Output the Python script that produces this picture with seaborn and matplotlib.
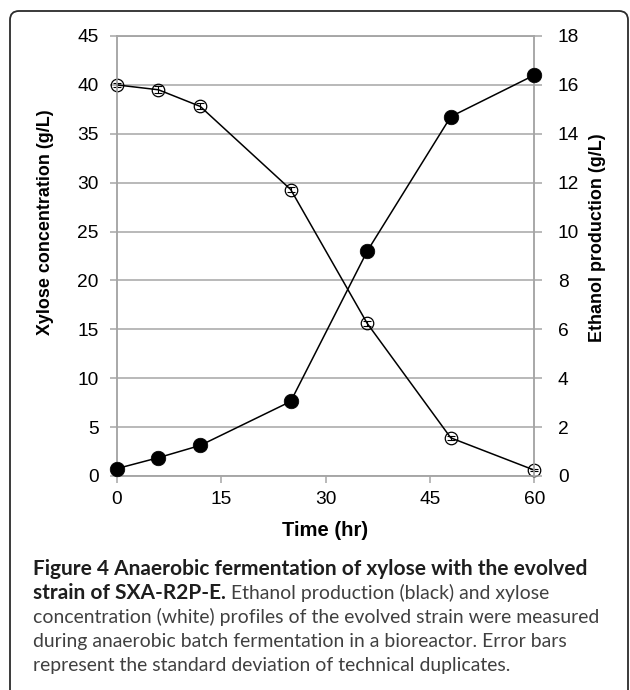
import matplotlib
matplotlib.use('Agg')
import matplotlib.pyplot as plt
import seaborn as sns
import numpy as np
import pandas as pd
from matplotlib.patches import FancyBboxPatch

# ---- data ----
time_hr = [0, 6, 12, 25, 36, 48, 60]
xylose = [40.0, 39.5, 37.8, 29.3, 15.6, 3.9, 0.6]
xylose_err = [0.2, 0.35, 0.3, 0.3, 0.25, 0.2, 0.1]
ethanol = [0.3, 0.75, 1.25, 3.05, 9.2, 14.7, 16.4]
ethanol_err = [0.05, 0.05, 0.05, 0.05, 0.05, 0.05, 0.05]
x_ticks = [0, 15, 30, 45, 60]
left_ticks = [0, 5, 10, 15, 20, 25, 30, 35, 40, 45]
right_ticks = [0, 2, 4, 6, 8, 10, 12, 14, 16, 18]

x_label = "Time (hr)"
left_label = "Xylose concentration (g/L)"
right_label = "Ethanol production (g/L)"
cap_bold_1 = "Figure 4 Anaerobic fermentation of xylose with the evolved"
cap_bold_2 = "strain of SXA-R2P-E."
cap_reg_2 = " Ethanol production (black) and xylose"
cap_reg_3 = "concentration (white) profiles of the evolved strain were measured"
cap_reg_4 = "during anaerobic batch fermentation in a bioreactor. Error bars"
cap_reg_5 = "represent the standard deviation of technical duplicates."

df = pd.DataFrame({"time": time_hr, "xylose": xylose, "ethanol": ethanol})

sns.set_theme(style="white")
plt.rcParams['font.family'] = ['Liberation Sans', 'DejaVu Sans']

W, H = 630, 690
fig = plt.figure(figsize=(W / 100, H / 100), dpi=100)


def fx(px):
    return px / W


def fy(py):
    return 1 - py / H


ax_l, ax_r, ax_t, ax_b = 116.7, 534.3, 36.0, 476.0
ax = fig.add_axes([fx(ax_l), fy(ax_b), fx(ax_r) - fx(ax_l), fy(ax_t) - fy(ax_b)])
ax2 = ax.twinx()

grid_c = '#a6a6a6'

# xylose (open circles, left axis)
ax.errorbar(time_hr, xylose, yerr=xylose_err, fmt='none', ecolor='black',
            elinewidth=0.8, capsize=3, capthick=0.8, zorder=3, clip_on=False)
sns.lineplot(data=df, x="time", y="xylose", ax=ax, color='black', lw=1.1,
             marker='o', markersize=9, markerfacecolor='none',
             markeredgecolor='black', markeredgewidth=0.9, clip_on=False,
             zorder=4)

# ethanol (filled circles, right axis)
ax2.errorbar(time_hr, ethanol, yerr=ethanol_err, fmt='none', ecolor='black',
             elinewidth=0.8, capsize=3, capthick=0.8, zorder=3, clip_on=False)
sns.lineplot(data=df, x="time", y="ethanol", ax=ax2, color='black', lw=1.1,
             marker='o', markersize=10.5, markerfacecolor='black',
             markeredgecolor='black', markeredgewidth=0.5, clip_on=False,
             zorder=4)

ax.set_xlim(0, 60)
ax.set_ylim(0, 45)
ax2.set_ylim(0, 18)
ax.set_xticks(x_ticks)
ax.set_yticks(left_ticks)
ax2.set_yticks(right_ticks)
ax.set_xlabel("")
ax.set_ylabel("")
ax2.set_ylabel("")

ax.grid(axis='y', color=grid_c, lw=1.1)
ax.grid(axis='x', visible=False)
ax2.grid(False)
ax.set_axisbelow(True)

for a in (ax, ax2):
    for s in a.spines.values():
        s.set_color(grid_c)
        s.set_linewidth(1.1)

ax.tick_params(axis='y', left=True, direction='out', length=5, width=1.1,
               color=grid_c, pad=8, labelsize=13.8, labelcolor='black')
ax.tick_params(axis='x', bottom=True, direction='out', length=5, width=1.1,
               color=grid_c, pad=6, labelsize=13.8, labelcolor='black')
ax2.tick_params(axis='y', right=True, direction='out', length=6, width=1.1,
                color=grid_c, pad=11, labelsize=13.8, labelcolor='black')

fig.text(fx(325.5), fy(530), x_label, ha='center', va='center',
         fontsize=14.6, fontweight='bold', color='black')
fig.text(fx(46), fy(222), left_label, ha='center', va='center', rotation=90,
         fontsize=12.9, fontweight='bold', color='black')
fig.text(fx(598), fy(238), right_label, ha='center', va='center', rotation=90,
         fontsize=12.9, fontweight='bold', color='black')

# border
border = FancyBboxPatch((0.10, -0.2), 6.18, 6.79 + 0.2,
                        boxstyle="round,pad=0,rounding_size=0.09",
                        transform=fig.dpi_scale_trans, fill=False,
                        edgecolor='#2b2b2b', linewidth=1.3)
fig.patches.append(border)

# caption
renderer = fig.canvas.get_renderer()
cap_font = ['Lato', 'DejaVu Sans']
bold_c = '#1e1e1e'
reg_c = '#404040'
x0 = 33
base = [575, 599, 623, 647, 671]


def fit(text, weight, target):
    t = fig.text(0, 0, text, fontsize=12, fontweight=weight, family=cap_font)
    w = t.get_window_extent(renderer).width
    t.remove()
    return 12 * target / w


fs_b = fit(cap_bold_1, 'bold', 582 - x0)
fs_r = fit(cap_reg_3, 'normal', 597 - x0)

fig.text(fx(x0), fy(base[0]), cap_bold_1, fontsize=fs_b, fontweight='bold',
         family=cap_font, color=bold_c, va='baseline', ha='left')
tb = fig.text(fx(x0), fy(base[1]), cap_bold_2, fontsize=fs_b, fontweight='bold',
              family=cap_font, color=bold_c, va='baseline', ha='left')
wb = tb.get_window_extent(renderer)
fig.text(wb.x1 / W, fy(base[1]), cap_reg_2,
         fontsize=fs_r, family=cap_font, color=reg_c, va='baseline', ha='left')
fig.text(fx(x0), fy(base[2]), cap_reg_3, fontsize=fs_r, family=cap_font,
         color=reg_c, va='baseline', ha='left')
fig.text(fx(x0), fy(base[3]), cap_reg_4, fontsize=fs_r, family=cap_font,
         color=reg_c, va='baseline', ha='left')
fig.text(fx(x0), fy(base[4]), cap_reg_5, fontsize=fs_r, family=cap_font,
         color=reg_c, va='baseline', ha='left')

fig.savefig('out.png', dpi=100, facecolor='white')
